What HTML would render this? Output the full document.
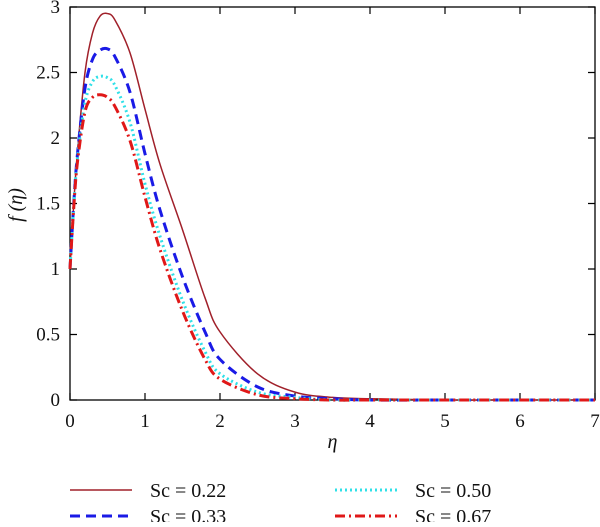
<!DOCTYPE html>
<html><head><meta charset="utf-8"><style>
body{margin:0;background:#fff;}
svg text{font-family:"Liberation Serif",serif;fill:#111;}
</style></head><body>
<svg width="600" height="522" viewBox="0 0 600 522">
<g id="axes"></g><g id="series"></g><g id="legend"></g>
</svg>
<script>
const etas=[0,0.05,0.1,0.2,0.3,0.4,0.5,0.6,0.8,1.0,1.2,1.5,1.8,2.0,2.5,3,3.5,4,5,6,7];
const sc022=[1,1.5,1.9,2.5,2.8,2.93,2.95,2.9,2.65,2.22,1.8,1.3,0.78,0.52,0.2,0.06,0.02,0.01,0,0,0];
const sc033=[1,1.5,1.88,2.38,2.6,2.67,2.68,2.62,2.35,1.88,1.45,0.94,0.52,0.31,0.1,0.03,0.01,0,0,0,0];
const sc050=[1,1.48,1.85,2.27,2.43,2.47,2.46,2.4,2.12,1.65,1.25,0.76,0.37,0.2,0.06,0.02,0,0,0,0,0];
const sc067=[1,1.47,1.82,2.2,2.31,2.33,2.31,2.24,1.98,1.55,1.15,0.68,0.31,0.16,0.04,0.01,0,0,0,0,0];
const xTicks=[0,1,2,3,4,5,6,7];
const yTicks=[0,0.5,1,1.5,2,2.5,3];
const labels=["Sc = 0.22","Sc = 0.33","Sc = 0.50","Sc = 0.67"];
const NS="http://www.w3.org/2000/svg";
const X0=70,X1=595,Y0=400,Y1=7;
const sx=v=>X0+(X1-X0)*v/7, sy=v=>Y0-(Y0-Y1)*v/3;
function mk(t,a,p){const e=document.createElementNS(NS,t);for(const k in a)e.setAttribute(k,a[k]);p.appendChild(e);return e;}
const ax=document.getElementById('axes');
const fr=mk('rect',{x:X0,y:Y1,width:X1-X0,height:Y0-Y1,fill:'none',stroke:'#000','stroke-width':1.3},ax);


xTicks.forEach(t=>{
 const l=mk('path',{d:`M${sx(t)},${Y0}v-7M${sx(t)},${Y1}v7`,stroke:'#000','stroke-width':1.2},ax);
 
 
 const tx=mk('text',{x:sx(t),y:Y0+27,'text-anchor':'middle','font-size':19},ax);tx.textContent=t;
 
 
});
yTicks.forEach(t=>{
 const l=mk('path',{d:`M${X0},${sy(t)}h7M${X1},${sy(t)}h-7`,stroke:'#000','stroke-width':1.2},ax);
 
 
 const tx=mk('text',{x:X0-10,y:sy(t)+6,'text-anchor':'end','font-size':19},ax);tx.textContent=t;
 
 
});
const xt=mk('text',{x:(X0+X1)/2,y:448,'text-anchor':'middle','font-size':20,'font-style':'italic'},ax);xt.textContent='η';


const yt=mk('text',{x:0,y:0,'text-anchor':'middle','font-size':20,'font-style':'italic',transform:'translate(22,205) rotate(-90)'},ax);yt.textContent='f (η)';


function path(ys){
 const p=etas.map((e,i)=>[sx(e),sy(ys[i])]);
 let d=`M${p[0][0]},${p[0][1]}`;
 for(let i=0;i<p.length-1;i++){
  const a=p[Math.max(0,i-1)],b=p[i],c=p[i+1],n=p[Math.min(p.length-1,i+2)];
  d+=`C${b[0]+(c[0]-a[0])/6},${b[1]+(c[1]-a[1])/6} ${c[0]-(n[0]-b[0])/6},${c[1]-(n[1]-b[1])/6} ${c[0]},${c[1]}`;
 }
 return d;
}
const styles=[{s:'#a0202a',w:1.5,da:''},{s:'#1a1ae6',w:3,da:'10,6'},{s:'#30e0e8',w:3,da:'2,3'},{s:'#e01818',w:3,da:'10,4,2,4'}];
const sers=[sc022,sc033,sc050,sc067];
const sg=document.getElementById('series');
sers.forEach((ys,i)=>{
 const p=mk('path',{d:path(ys),fill:'none',stroke:styles[i].s,'stroke-width':styles[i].w,'stroke-dasharray':styles[i].da},sg);
 
 
});
const lg=document.getElementById('legend');
const pos=[[70,490],[70,516],[335,490],[335,516]];
labels.forEach((t,i)=>{
 const [x,y]=pos[i];
 const l=mk('line',{x1:x,y1:y,x2:x+62,y2:y,stroke:styles[i].s,'stroke-width':styles[i].w,'stroke-dasharray':styles[i].da},lg);
 
 
 const tx=mk('text',{x:x+80,y:y+7,'font-size':20},lg);tx.textContent=t;
 
 
});
</script>
</body></html>
